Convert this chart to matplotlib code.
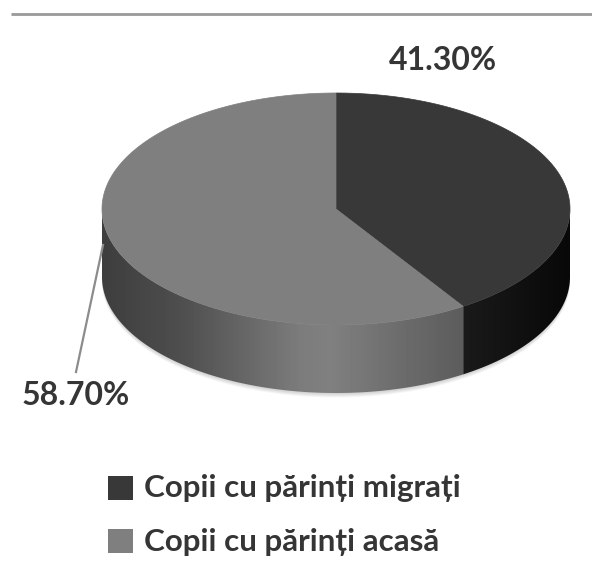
import numpy as np
import matplotlib
matplotlib.use("Agg")
import matplotlib.pyplot as plt
from matplotlib.patches import Polygon, Rectangle

categories = ["Copii cu părinți migrați", "Copii cu părinți acasă"]
shares = [41.30, 58.70]
share_labels = ["41.30%", "58.70%"]

plt.rcParams["font.family"] = ["Lato", "Noto Sans", "DejaVu Sans"]

# pie geometry in pixels
cx, cy = 336, 209
a, b = 234, 116
depth = 68
tilt = 1.6  # the tilted view pulls the front edge of the split a little
dark, light = "#383838", "#7f7f7f"
text_col = "#353535"

fig = plt.figure(figsize=(5.92, 5.86), dpi=100)
ax = fig.add_axes([0, 0, 1, 1])
ax.set_xlim(0, 592)
ax.set_ylim(586, 0)
ax.axis("off")


def rim(t1, t2, dy=0, n=200):
    # points on the ellipse, angle clockwise from the top
    t = np.radians(np.linspace(t1, t2, n))
    return np.column_stack([cx + a * np.sin(t), cy + dy - b * np.cos(t)])


def side(t1, t2, xs, greys):
    pts = np.vstack([rim(t1, t2), rim(t1, t2, depth)[::-1]])
    poly = Polygon(pts, closed=True, fc="none", ec="none")
    ax.add_patch(poly)
    x = np.arange(592)
    col = np.interp(x, xs, greys)[None, :]
    im = ax.imshow(col, cmap="gray", vmin=0, vmax=255, aspect="auto",
                   extent=[0, 592, 586, 0], zorder=2)
    im.set_clip_path(poly)


# soft shadow under the pie
for k in range(1, 6):
    shadow = rim(90, 270, depth + k * 0.9)
    ax.add_patch(Polygon(np.vstack([shadow, [[cx, cy]]]), closed=True,
                         fc="black", ec="none", alpha=0.035, zorder=1))

split = 360 * shares[0] / sum(shares) - tilt

side(90, split, [463, 570], [26, 8])
side(split, 270, [103, 180, 300, 330, 400, 463], [62, 78, 124, 128, 108, 92])
ax.set_xlim(0, 592)
ax.set_ylim(586, 0)

# top face of both slices
pts = np.vstack([[[cx, cy]], rim(0, split)])
ax.add_patch(Polygon(pts, closed=True, fc=dark, ec=dark, lw=0.5, zorder=3))
pts = np.vstack([[[cx, cy]], rim(split, 360)])
ax.add_patch(Polygon(pts, closed=True, fc=light, ec=light, lw=0.5, zorder=3))

# rule at the top
ax.plot([11, 592], [13.5, 13.5], color="#999999", lw=2, solid_capstyle="butt")

# data labels
ax.text(443, 70, share_labels[0], ha="center", va="baseline", fontsize=23,
        fontweight="bold", color=text_col)
ax.text(76, 405, share_labels[1], ha="center", va="baseline", fontsize=23,
        fontweight="bold", color=text_col)
ax.plot([103, 76], [245, 372], color="#8c8c8c", lw=1.6, zorder=4)

# legend
for y, base, col, name in zip([476, 529], [497, 551], [dark, light], categories):
    ax.add_patch(Rectangle((108, y), 25, 23.5, fc=col, ec="none"))
    ax.text(144, base, name, ha="left", va="baseline", fontsize=22.6,
            fontweight="bold", color=text_col)

fig.savefig("out.png", dpi=100)
